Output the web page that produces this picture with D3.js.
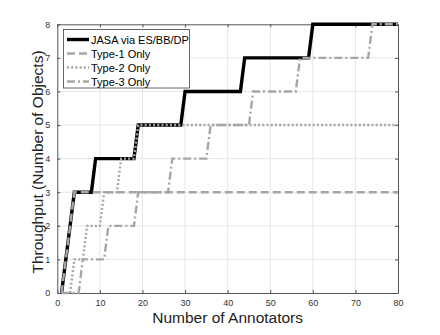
<!DOCTYPE html>
<html>
<head>
<meta charset="utf-8">
<script src="https://cdn.jsdelivr.net/npm/d3@7"></script>
<style>
body { margin: 0; background: #fff; }
text { font-family: "Liberation Sans", Arial, sans-serif; }
</style>
</head>
<body>
<script>
// data: [annotators, throughput] break points
const jasa  = [[1,0],[4,3],[8,3],[9,4],[18,4],[19,5],[29,5],[30,6],[43,6],[44,7],[59,7],[60,8],[80,8]];
const type1 = [[1,0],[4,3],[80,3]];
const type2 = [[3,0],[4,1],[6,1],[7,2],[10,2],[11,3],[14,3],[15,4],[18,4],[19,5],[80,5]];
const type3 = [[1,0],[5,0],[6,1],[11,1],[12,2],[18,2],[19,3],[26,3],[27,4],[35,4],[36,5],[45,5],[46,6],[56,6],[57,7],[73,7],[74,8],[80,8]];
const names = ["JASA via ES/BB/DP", "Type-1 Only", "Type-2 Only", "Type-3 Only"];
const xTicks = [0,10,20,30,40,50,60,70,80];
const yTicks = [0,1,2,3,4,5,6,7,8];

const width = 440, height = 335;
const margin = {left: 57.3, right: 42, top: 24.3, bottom: 42};

const svg = d3.select("body").append("svg")
    .attr("width", width)
    .attr("height", height);

const x = d3.scaleLinear().domain([0,80]).range([margin.left, width-margin.right]);
const y = d3.scaleLinear().domain([0,8]).range([height-margin.bottom, margin.top]);

// grid
svg.append("g").selectAll("line").data(xTicks.slice(1,-1)).enter().append("line")
    .attr("x1", d => x(d)).attr("x2", d => x(d))
    .attr("y1", y(0)).attr("y2", y(8))
    .attr("stroke", "#e6e6e6").attr("stroke-width", 1);
svg.append("g").selectAll("line").data(yTicks.slice(1,-1)).enter().append("line")
    .attr("x1", x(0)).attr("x2", x(80))
    .attr("y1", d => y(d)).attr("y2", d => y(d))
    .attr("stroke", "#e6e6e6").attr("stroke-width", 1);

// axes (box with inward ticks)
function styleAxis(g) {
    g.select(".domain").attr("stroke", "#555").attr("stroke-width", 1);
    g.selectAll(".tick line").attr("stroke", "#555");
    g.selectAll(".tick text").attr("fill", "#333").style("font-size", "9px")
        .style("font-family", "'Liberation Sans', Arial, sans-serif");
}
svg.append("g").attr("transform", "translate(0,"+y(0)+")")
    .call(d3.axisBottom(x).tickValues(xTicks).tickSizeInner(-3).tickSizeOuter(0).tickPadding(7))
    .call(styleAxis);
svg.append("g").attr("transform", "translate(0,"+y(8)+")")
    .call(d3.axisTop(x).tickValues(xTicks).tickSizeInner(-3).tickSizeOuter(0).tickFormat(""))
    .call(styleAxis);
svg.append("g").attr("transform", "translate("+x(0)+",0)")
    .call(d3.axisLeft(y).tickValues(yTicks).tickSizeInner(-3).tickSizeOuter(0).tickPadding(7))
    .call(styleAxis);
svg.append("g").attr("transform", "translate("+x(80)+",0)")
    .call(d3.axisRight(y).tickValues(yTicks).tickSizeInner(-3).tickSizeOuter(0).tickFormat(""))
    .call(styleAxis);

// series
const line = d3.line().x(d => x(d[0])).y(d => y(d[1]));
const styles = [
    {data: jasa,  color: "#000", w: 3.4, dash: null},
    {data: type1, color: "#a6a6a6", w: 2.4, dash: "8,4"},
    {data: type2, color: "#a6a6a6", w: 2.4, dash: "2,2.2"},
    {data: type3, color: "#a6a6a6", w: 2.4, dash: "8,3,2,3"}
];
styles.forEach(s => {
    svg.append("path").datum(s.data)
        .attr("d", line)
        .attr("fill", "none")
        .attr("stroke", s.color)
        .attr("stroke-width", s.w)
        .attr("stroke-dasharray", s.dash);
});

// legend
const lg = svg.append("g");
lg.append("rect")
    .attr("x", 63.5).attr("y", 29.5).attr("width", 126).attr("height", 58.5)
    .attr("fill", "#fff").attr("stroke", "#444").attr("stroke-width", 0.8);
styles.forEach((s, i) => {
    const yy = 39.5 + i*14;
    lg.append("line")
        .attr("x1", 67).attr("x2", 89).attr("y1", yy).attr("y2", yy)
        .attr("stroke", s.color).attr("stroke-width", s.w)
        .attr("stroke-dasharray", s.dash);
    lg.append("text")
        .attr("x", 91).attr("y", yy + 4)
        .style("font-size", "11px").attr("fill", "#000")
        .text(names[i]);
});

// axis titles
svg.append("text")
    .attr("x", x(40)).attr("y", 323)
    .attr("text-anchor", "middle")
    .style("font-size", "15.5px").attr("fill", "#222")
    .text("Number of Annotators");
svg.append("text")
    .attr("transform", "translate(43,162) rotate(-90)")
    .attr("text-anchor", "middle")
    .style("font-size", "15.5px").attr("fill", "#222")
    .text("Throughput (Number of Objects)");
</script>
</body>
</html>
